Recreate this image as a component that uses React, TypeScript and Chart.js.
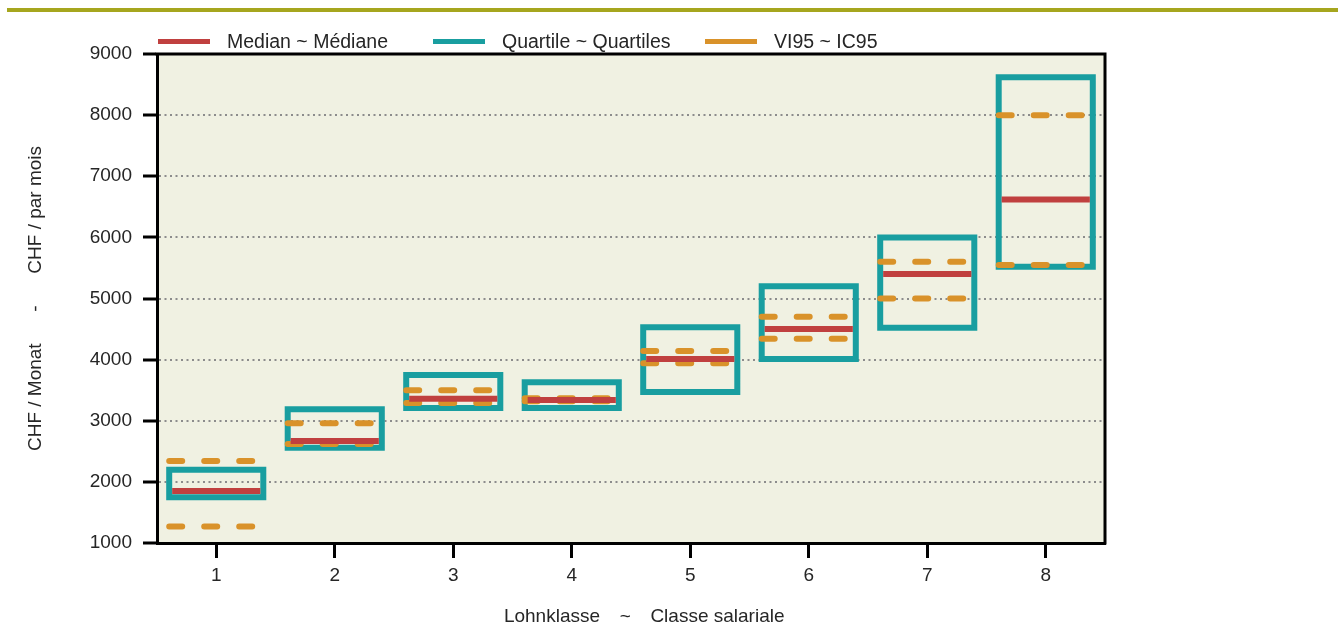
import React, { useEffect, useRef } from "react";
import { Chart, registerables } from "chart.js";

Chart.register(...registerables);

// ---- data ----
const categories = [1, 2, 3, 4, 5, 6, 7, 8];
const medianValues = [1850, 2670, 3360, 3340, 4010, 4500, 5400, 6620];
const quartileLow = [1750, 2560, 3210, 3210, 3470, 4010, 4520, 5520];
const quartileHigh = [2200, 3190, 3750, 3630, 4530, 5200, 6000, 8620];
const vi95Low = [1270, 2620, 3290, 3320, 3940, 4340, 5000, 5550];
const vi95High = [2340, 2960, 3500, 3370, 4140, 4700, 5600, 8000];
const yTickValues = [1000, 2000, 3000, 4000, 5000, 6000, 7000, 8000, 9000];

const seriesLabels = ["Median ~ Médiane", "Quartile ~ Quartiles", "VI95 ~ IC95"];
const NB = "\u00A0";
const xTitle = NB.repeat(5) + "Lohnklasse" + NB.repeat(3) + "\u2009~" + NB.repeat(3) + "\u2009Classe salariale";
const yTitle = "CHF / Monat" + NB.repeat(6) + "-" + NB.repeat(6) + "CHF / par mois";

// ---- style ----
const RED = "#c0403f";
const TEAL = "#199ea0";
const ORANGE = "#d9922a";
const PLOT_BG = "#f0f1e2";
const OLIVE = "#a6a61e";
const FONT = "'Liberation Sans', Arial, sans-serif";
const TEXT = "#262626";
const BOX_HALF = 0.397;
const MEDIAN_HALF = 0.372;
const VI_START = 0.397;
const VI_END = 0.38;

const medianData = categories.flatMap((c, i) => [
  { x: c - MEDIAN_HALF, y: medianValues[i] },
  { x: c + MEDIAN_HALF, y: medianValues[i] },
  { x: c + 0.5, y: null },
]);
const boxData = categories.flatMap((c, i) => [
  { x: c - BOX_HALF, y: quartileLow[i] },
  { x: c - BOX_HALF, y: quartileHigh[i] },
  { x: c + BOX_HALF, y: quartileHigh[i] },
  { x: c + BOX_HALF, y: quartileLow[i] },
  { x: c - BOX_HALF, y: quartileLow[i] },
  { x: c + 0.5, y: null },
]);
const viData = categories.flatMap((c, i) => [
  { x: c - VI_START, y: vi95High[i] },
  { x: c + VI_END, y: vi95High[i] },
  { x: c + 0.45, y: null },
  { x: c - VI_START, y: vi95Low[i] },
  { x: c + VI_END, y: vi95Low[i] },
  { x: c + 0.5, y: null },
]);

const plotFrame = {
  id: "plotFrame",
  beforeDraw(chart: any) {
    const { ctx, chartArea } = chart;
    ctx.save();
    ctx.fillStyle = PLOT_BG;
    ctx.fillRect(chartArea.left, chartArea.top, chartArea.right - chartArea.left, chartArea.bottom - chartArea.top);
    ctx.restore();
  },
  beforeDatasetsDraw(chart: any) {
    const { ctx, chartArea } = chart;
    ctx.save();
    ctx.strokeStyle = "#000";
    ctx.lineWidth = 3;
    ctx.lineCap = "square";
    ctx.beginPath();
    ctx.moveTo(chartArea.left, chartArea.top);
    ctx.lineTo(chartArea.right, chartArea.top);
    ctx.lineTo(chartArea.right, chartArea.bottom);
    ctx.stroke();
    ctx.restore();
  },
};

const legendColors = [RED, TEAL, ORANGE];
const legendLeft = [158, 433, 705];

export default function App() {
  const ref = useRef<HTMLCanvasElement>(null);
  useEffect(() => {
    const lineCommon = {
      pointRadius: 0,
      pointHoverRadius: 0,
      tension: 0,
      spanGaps: false,
      fill: false,
      borderWidth: 6,
    };
    const chart = new Chart(ref.current!, {
      type: "line",
      data: {
        datasets: [
          { ...lineCommon, label: seriesLabels[0], data: medianData as any, borderColor: RED, order: 0, borderCapStyle: "butt" },
          { ...lineCommon, label: seriesLabels[2], data: viData as any, borderColor: ORANGE, order: 1, borderDash: [13, 22], borderCapStyle: "round" },
          { ...lineCommon, label: seriesLabels[1], data: boxData as any, borderColor: TEAL, order: 2, borderJoinStyle: "miter", borderCapStyle: "square" },
        ],
      },
      options: {
        responsive: false,
        animation: false,
        events: [],
        layout: { padding: { left: 0, right: 233, top: 54, bottom: 0 } },
        plugins: { legend: { display: false }, tooltip: { enabled: false } },
        scales: {
          x: {
            type: "linear",
            min: 0.5,
            max: 8.5,
            afterBuildTicks: (scale: any) => {
              scale.ticks = categories.map((v) => ({ value: v }));
            },
            afterFit: (scale: any) => {
              scale.height = 87;
            },
            ticks: {
              autoSkip: false,
              padding: 6,
              color: TEXT,
              font: { family: FONT, size: 19 },
              callback: (v: any) => String(v),
            },
            grid: {
              drawOnChartArea: false,
              drawTicks: true,
              tickLength: 15,
              tickWidth: 3,
              tickColor: "#000",
            },
            border: { display: true, color: "#000", width: 3 },
            title: {
              display: true,
              text: xTitle,
              color: TEXT,
              font: { family: FONT, size: 19 },
              padding: { top: 0, bottom: 2 },
            },
          },
          y: {
            type: "linear",
            min: 1000,
            max: 9000,
            afterBuildTicks: (scale: any) => {
              scale.ticks = yTickValues.map((v) => ({ value: v }));
            },
            afterFit: (scale: any) => {
              scale.width = 157;
            },
            ticks: {
              padding: 11,
              color: TEXT,
              font: { family: FONT, size: 19 },
              callback: (v: any) => String(v),
            },
            grid: {
              color: (ctx: any) =>
                ctx.tick && (ctx.tick.value === 1000 || ctx.tick.value === 9000) ? "rgba(0,0,0,0)" : "#8c8c8c",
              lineWidth: 2,
              drawTicks: true,
              tickLength: 14,
              tickWidth: 3,
              tickColor: "#000",
            },
            border: { display: true, color: "#000", width: 3, dash: [2, 3.5] },
            title: {
              display: true,
              text: yTitle,
              color: TEXT,
              font: { family: FONT, size: 19 },
              padding: { top: 24, bottom: 0 },
            },
          },
        },
      },
      plugins: [plotFrame],
    } as any);
    return () => chart.destroy();
  }, []);

  return (
    <div style={{ position: "absolute", left: 0, top: 0, width: 1338, height: 630, background: "#fff" }}>
      <div style={{ position: "absolute", left: 7, top: 8, width: 1331, height: 4, background: OLIVE }} />
      <canvas ref={ref} width={1338} height={630} style={{ position: "absolute", left: 0, top: 0, display: "block" }} />
      {seriesLabels.map((label, i) => (
        <div
          key={label}
          style={{
            position: "absolute",
            left: legendLeft[i],
            top: 29,
            height: 24,
            display: "flex",
            alignItems: "center",
            fontFamily: FONT,
            fontSize: 19.5,
            color: TEXT,
            whiteSpace: "nowrap",
          }}
        >
          <span style={{ display: "inline-block", width: 52, height: 5, background: legendColors[i], marginRight: 17 }} />
          <span>{label}</span>
        </div>
      ))}
    </div>
  );
}
